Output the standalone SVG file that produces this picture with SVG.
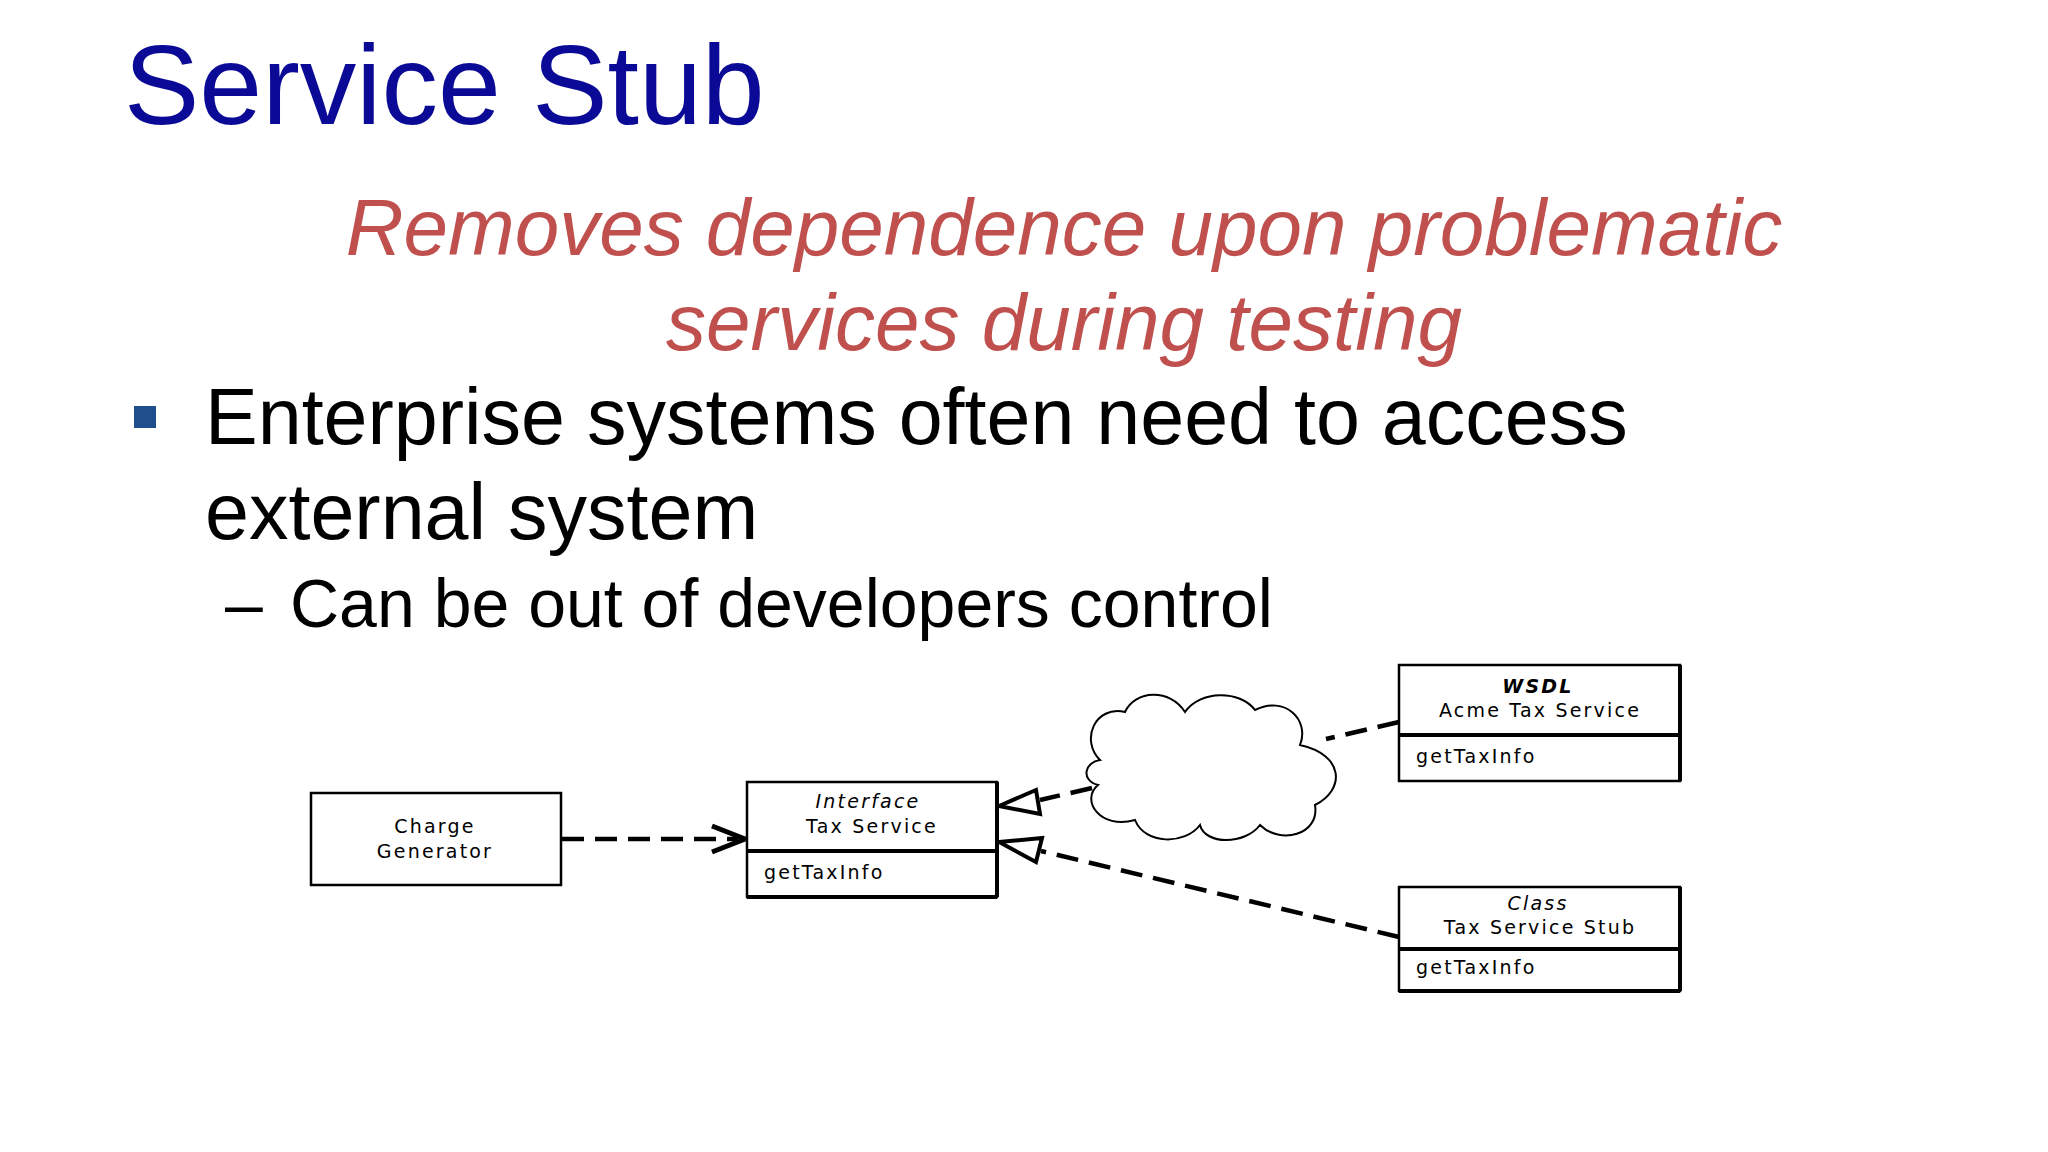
<svg xmlns="http://www.w3.org/2000/svg" width="2048" height="1152" viewBox="0 0 2048 1152">
<style>
.box{fill:#fff;stroke:#000;stroke-width:2.5}
.sh{fill:none;stroke:#000;stroke-width:4}
.d{font-family:"DejaVu Sans",sans-serif;font-size:19px;letter-spacing:2.2px;fill:#000}
.c{text-anchor:middle}
.con{fill:none;stroke:#000;stroke-width:4.5;stroke-dasharray:22 11}
.hd{fill:#fff;stroke:#000;stroke-width:4}
</style>
<rect width="2048" height="1152" fill="#fff"/>
<text x="124" y="124" font-family="Liberation Sans,Arial,sans-serif" font-size="113" fill="#0a0a96">Service Stub</text>
<g font-family="Liberation Sans,Arial,sans-serif" font-style="italic" font-size="80" fill="#c0504d" text-anchor="middle">
<text x="1064" y="255">Removes dependence upon problematic</text>
<text x="1064" y="350">services during testing</text>
</g>
<rect x="134" y="406" width="22" height="22" fill="#1f4e8c"/>
<g font-family="Liberation Sans,Arial,sans-serif" fill="#000">
<text x="205" y="444" font-size="79">Enterprise systems often need to access</text>
<text x="205" y="539" font-size="79">external system</text>
<text x="225" y="627" font-size="68">–</text>
<text x="290" y="627" font-size="68">Can be out of developers control</text>
</g>
<g id="connectors">
<path class="con" d="M562 839 L738 839"/>
<path d="M712 826 L745 839 L712 852" fill="none" stroke="#000" stroke-width="5"/>
<path class="con" d="M1092 788 L1040 800"/>
<path class="hd" d="M999 806 L1036 790 L1040 814 Z"/>
<path class="con" d="M1399 937 L1041 851"/>
<path class="hd" d="M999 842 L1042 838 L1036 862 Z"/>
<path class="con" d="M1399 722 L1326 739"/>
</g>
<g id="cloud">
<path d="M1100 760 C1080 740 1095 705 1125 712 C1135 690 1170 688 1185 712 C1200 690 1240 690 1255 710 C1285 695 1310 720 1300 745 C1345 755 1345 790 1315 805 C1320 835 1280 845 1260 825 C1245 845 1205 845 1200 825 C1185 845 1145 845 1135 820 C1100 830 1080 800 1098 785 C1080 780 1085 762 1100 760 Z" fill="#fff" stroke="#000" stroke-width="2"/>
</g>
<g id="charge">
<rect class="box" x="311" y="793" width="250" height="92"/>
<text class="d c" x="435" y="833">Charge</text>
<text class="d c" x="435" y="858">Generator</text>
</g>
<g id="interface">
<rect class="box" x="747" y="782" width="250" height="115"/>
<path class="sh" d="M747 851 H997 M747 897 H997 M997 782 V897"/>
<text class="d c" x="868" y="808" font-style="italic">Interface</text>
<text class="d c" x="872" y="833">Tax Service</text>
<text class="d" x="764" y="879">getTaxInfo</text>
</g>
<g id="acme">
<rect class="box" x="1399" y="665" width="281" height="116"/>
<path class="sh" d="M1399 735 H1680 M1680 665 V781"/>
<text class="d c" x="1538" y="693" font-style="italic" font-weight="bold">WSDL</text>
<text class="d c" x="1540" y="717">Acme Tax Service</text>
<text class="d" x="1416" y="763">getTaxInfo</text>
</g>
<g id="stub">
<rect class="box" x="1399" y="887" width="281" height="104"/>
<path class="sh" d="M1399 949 H1680 M1680 887 V991 M1399 991 H1680"/>
<text class="d c" x="1538" y="910" font-style="italic">Class</text>
<text class="d c" x="1540" y="934">Tax Service Stub</text>
<text class="d" x="1416" y="974">getTaxInfo</text>
</g>
</svg>
